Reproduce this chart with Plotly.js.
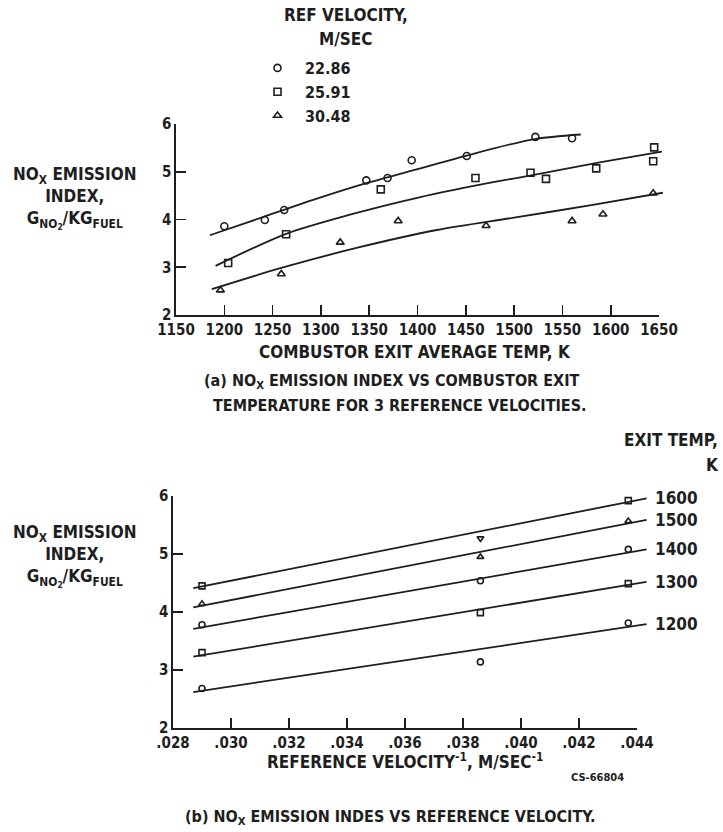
<!DOCTYPE html>
<html><head><meta charset="utf-8">
<script src="https://cdn.plot.ly/plotly-3.0.1.min.js"></script>
<style>html,body{margin:0;padding:0;background:#fff}</style>
</head><body><div id="chart" style="width:723px;height:832px"></div>
<script>
// ---------- (a) data: NOx EI vs combustor exit temperature ----------
const velLabels = ['22.86', '25.91', '30.48'];
const tA_2286 = [1200, 1242, 1262, 1347, 1369, 1394, 1451, 1522, 1560];
const eiA_2286 = [3.86, 3.99, 4.20, 4.82, 4.87, 5.24, 5.33, 5.73, 5.70];
const tA_2591 = [1204, 1264, 1362, 1460, 1517, 1533, 1585, 1645, 1644];
const eiA_2591 = [3.09, 3.69, 4.63, 4.87, 4.98, 4.85, 5.07, 5.51, 5.22];
const tA_3048 = [1196, 1259, 1320, 1380, 1471, 1560, 1592, 1644];
const eiA_3048 = [2.52, 2.86, 3.52, 3.97, 3.87, 3.97, 4.11, 4.55];
// faired curves
const fitT_2286 = [1185, 1240, 1292, 1347, 1403, 1451, 1520, 1569];
const fitEI_2286 = [3.67, 4.05, 4.41, 4.76, 5.07, 5.34, 5.68, 5.78];
const fitT_2591 = [1191, 1264, 1330, 1403, 1465, 1530, 1590, 1653];
const fitEI_2591 = [3.03, 3.70, 4.10, 4.47, 4.73, 4.97, 5.20, 5.42];
const fitT_3048 = [1187, 1258, 1340, 1420, 1500, 1580, 1654];
const fitEI_3048 = [2.54, 2.98, 3.42, 3.78, 4.04, 4.30, 4.56];
const tempTicks = [1150, 1200, 1250, 1300, 1350, 1400, 1450, 1500, 1550, 1600, 1650];
const eiTicks = [2, 3, 4, 5, 6];

// ---------- (b) data: NOx EI vs reciprocal reference velocity ----------
const exitTemps = ['1200', '1300', '1400', '1500', '1600'];
const invVel = [0.0290, 0.0386, 0.0437];
const eiB_1200 = [2.68, 3.14, 3.81];
const eiB_1300 = [3.30, 3.99, 4.49];
const eiB_1400 = [3.78, 4.54, 5.08];
const eiB_1500 = [4.14, 4.95, 5.57];
const eiB_1600 = [4.45, 5.27, 5.92];
const fitInv = [0.0287, 0.04433];
const fitB_1200 = [2.62, 3.79];
const fitB_1300 = [3.23, 4.52];
const fitB_1400 = [3.71, 5.08];
const fitB_1500 = [4.08, 5.59];
const fitB_1600 = [4.41, 5.96];
const invTicks = [0.028, 0.030, 0.032, 0.034, 0.036, 0.038, 0.040, 0.042, 0.044];
const invTickText = ['.028', '.030', '.032', '.034', '.036', '.038', '.040', '.042', '.044'];

// ---------- styling ----------
const W = 723, H = 832;
const FAM = 'DejaVu Sans Condensed, Liberation Sans Narrow, sans-serif';
const INK = '#1e1e1e';
const F = (s) => ({family: FAM, size: s, color: INK, weight: 'bold'});
const px = (x) => x / W;
const py = (y) => 1 - y / H;

const lineStyle = {color: INK, width: 1.8};
const mk = (sym, size) => ({symbol: sym, size: size || 7, color: INK, line: {color: INK, width: 1.6}});

// plot-area geometry (pixels)
const A_L = 176, A_R = 659, A_T = 124, A_B = 315;
const B_L = 173, B_R = 637, B_T = 496, B_B = 728;
const EXT = 12; // faired lines run a little past the last tick
const xA0 = tempTicks[0], xA1 = tempTicks[tempTicks.length - 1];
const xB0 = invTicks[0], xB1 = invTicks[invTicks.length - 1];
const xA1ext = xA1 + (xA1 - xA0) * EXT / (A_R - A_L);
const xB1ext = xB1 + (xB1 - xB0) * EXT / (B_R - B_L);

const traces = [];
// (a) curves (drawn on a hidden, slightly wider axis with the same scale)
[[fitT_2286, fitEI_2286], [fitT_2591, fitEI_2591], [fitT_3048, fitEI_3048]].forEach(([x, y]) => {
  traces.push({x, y, xaxis: 'x3', yaxis: 'y', mode: 'lines', line: Object.assign({shape: 'spline', smoothing: 0.8}, lineStyle), showlegend: false, hoverinfo: 'skip'});
});
// (a) points
traces.push({x: tA_2286, y: eiA_2286, xaxis: 'x', yaxis: 'y', mode: 'markers', name: velLabels[0], marker: mk('circle-open')});
traces.push({x: tA_2591, y: eiA_2591, xaxis: 'x', yaxis: 'y', mode: 'markers', name: velLabels[1], marker: mk('square-open')});
traces.push({x: tA_3048, y: eiA_3048, xaxis: 'x', yaxis: 'y', mode: 'markers', name: velLabels[2], marker: mk('triangle-up-open')});

// (b) lines
const fitsB = [fitB_1200, fitB_1300, fitB_1400, fitB_1500, fitB_1600];
fitsB.forEach((y) => {
  traces.push({x: fitInv, y, xaxis: 'x4', yaxis: 'y2', mode: 'lines', line: lineStyle, showlegend: false, hoverinfo: 'skip'});
});
const ptsB = [eiB_1200, eiB_1300, eiB_1400, eiB_1500, eiB_1600];
const symsB = ['circle-open', 'square-open', 'circle-open', 'triangle-up-open', ['square-open', 'triangle-down-open', 'square-open']];
ptsB.forEach((y, i) => {
  traces.push({x: invVel, y, xaxis: 'x2', yaxis: 'y2', mode: 'markers', showlegend: false, marker: mk(symsB[i], 6)});
});

const axisCommon = {
  showline: true, linecolor: INK, linewidth: 1.6, ticks: 'inside', ticklen: 10, tickwidth: 1.6, tickcolor: INK,
  showgrid: false, zeroline: false, mirror: false, tickfont: F(15), fixedrange: true
};
const hidden = {visible: false, showgrid: false, zeroline: false, fixedrange: true};

const annotations = [];
const A = (text, x, y, size, opts) => annotations.push(Object.assign({
  text, xref: 'paper', yref: 'paper', x: px(x), y: py(y), showarrow: false, font: F(size), xanchor: 'center', yanchor: 'middle'
}, opts || {}));

// legend title
A('REF VELOCITY,', 346, 15, 17);
A('M/SEC', 346, 39, 17);
// y titles
const yTitle = 'NO<sub>X</sub> EMISSION<br>INDEX,<br>G<sub>NO<sub>2</sub></sub>/KG<sub>FUEL</sub>';
A(yTitle, 75, 198, 17, {align: 'center'});
A(yTitle, 75, 556, 17, {align: 'center'});
// x titles and captions
A('COMBUSTOR EXIT AVERAGE TEMP, K', 415, 352, 17);
A('(a) NO<sub>X</sub> EMISSION INDEX VS COMBUSTOR EXIT', 392, 381, 16);
A('TEMPERATURE FOR 3 REFERENCE VELOCITIES.', 400, 405, 16);
A('EXIT TEMP,', 720, 440, 17, {xanchor: 'right'});
A('K', 712, 465, 17);
A('REFERENCE VELOCITY<sup>-1</sup>, M/SEC<sup>-1</sup>', 405, 761, 17);
A('CS-66804', 597, 777, 11);
A('(b) NO<sub>X</sub> EMISSION INDES VS REFERENCE VELOCITY.', 390, 817, 16);
// line labels in (b), placed at the line's right end (y in data units)
fitsB.forEach((y, i) => {
  annotations.push({text: exitTemps[i], xref: 'paper', yref: 'y2', x: px(B_R + EXT + 4), y: y[1], xanchor: 'left', yanchor: 'middle', showarrow: false, font: F(17)});
});

const layout = {
  width: W, height: H, margin: {l: 0, r: 0, t: 0, b: 0},
  paper_bgcolor: '#fff', plot_bgcolor: 'rgba(0,0,0,0)',
  showlegend: true,
  legend: {x: px(250), y: py(51), xanchor: 'left', yanchor: 'top', font: F(16), bgcolor: 'rgba(0,0,0,0)', tracegroupgap: 0, itemwidth: 45},
  xaxis: Object.assign({}, axisCommon, {domain: [px(A_L), px(A_R)], range: [xA0, xA1], tickvals: tempTicks, anchor: 'y'}),
  yaxis: Object.assign({}, axisCommon, {domain: [py(A_B), py(A_T)], range: [2, 6], tickvals: eiTicks, anchor: 'x'}),
  xaxis2: Object.assign({}, axisCommon, {domain: [px(B_L), px(B_R)], range: [xB0, xB1], tickvals: invTicks, ticktext: invTickText, anchor: 'y2'}),
  yaxis2: Object.assign({}, axisCommon, {domain: [py(B_B), py(B_T)], range: [2, 6], tickvals: eiTicks, anchor: 'x2'}),
  xaxis3: Object.assign({}, hidden, {domain: [px(A_L), px(A_R + EXT)], range: [xA0, xA1ext], anchor: 'y'}),
  xaxis4: Object.assign({}, hidden, {domain: [px(B_L), px(B_R + EXT)], range: [xB0, xB1ext], anchor: 'y2'}),
  annotations
};

Plotly.newPlot('chart', traces, layout, {staticPlot: true, displayModeBar: false});
</script>
</body></html>
